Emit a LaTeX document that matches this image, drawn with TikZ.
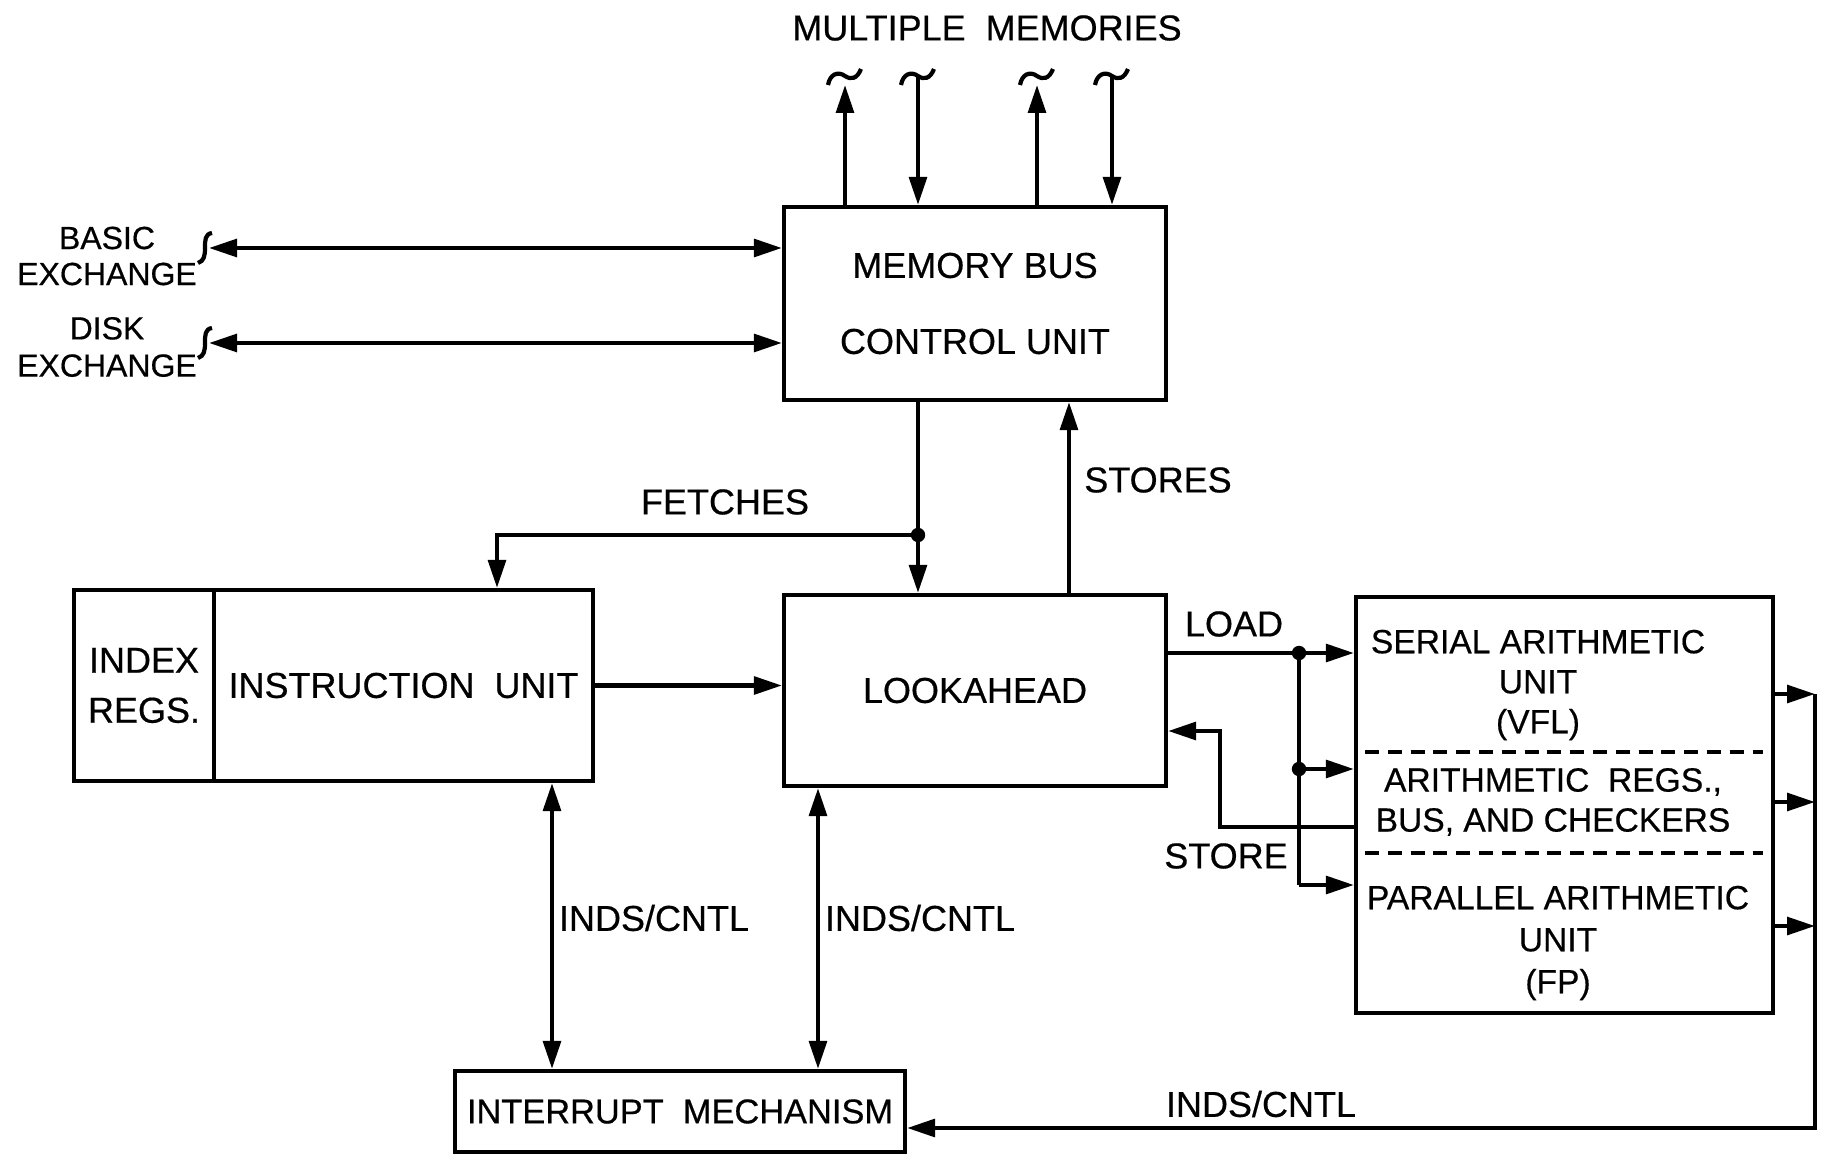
\documentclass[tikz,border=0pt]{standalone}
\usepackage{fontspec}
\setmainfont{Liberation Sans}[FakeBold=0.5]
\usetikzlibrary{arrows.meta}

\tikzset{
        box/.style={draw,line width=1.05pt,inner sep=0pt,align=center,font=\fontsize{9}{11}\selectfont},
        wire/.style={line width=1.05pt},
        arr/.style={wire,-{Triangle[length=7pt,width=4.4pt]}},
        dbl/.style={wire,{Triangle[length=7pt,width=4.4pt]}-{Triangle[length=7pt,width=4.4pt]}},
        lbl/.style={inner sep=0pt,align=center,font=\fontsize{9}{11}\selectfont},
        atxt/.style={inner sep=0pt,align=center,font=\fontsize{8.4}{10}\selectfont},
        tilde/.pic={\draw[wire] (-17,11) .. controls (-15,0) and (-7,-3) .. (0,2) .. controls (6,6) and (12,5) .. (16,-5);},
        hook/.pic={\draw[wire] (7,-15) .. controls (0,-14) and (0,-8) .. (0,0) .. controls (0,8) and (-1,13) .. (-7,15);}
}

\begin{document}
\begin{tikzpicture}[x=0.25pt,y=-0.25pt]
        \useasboundingbox (0,0) rectangle (1822,1155);
        % units
        \node[box,minimum width=95.5pt,minimum height=48.25pt](membus)at(975,303.5){MEMORY BUS\\[8pt]CONTROL UNIT};
        \node[box,minimum width=95.5pt,minimum height=47.75pt](look)at(975,690.5){LOOKAHEAD};
        \node[box,minimum width=35pt,minimum height=47.75pt](idx)at(144,685.5){INDEX\\[1.5pt]REGS.};
        \node[box,minimum width=94.75pt,minimum height=47.75pt](instr)at(403.5,685.5){INSTRUCTION\ \ UNIT};
        \node[box,minimum width=112.5pt,minimum height=20.25pt,font=\fontsize{8.6}{10}\selectfont](intr)at(680,1111.5){INTERRUPT\ \ MECHANISM};
        \node[box,minimum width=104.25pt,minimum height=104pt](arith)at(1564.5,805){};
        \node[atxt](sau)at(1538,685){SERIAL ARITHMETIC\\UNIT\\(VFL)};
        \node[atxt](arg)at(1553,802){ARITHMETIC\ \ REGS.,\\BUS, AND CHECKERS};
        \node[atxt](pau)at(1558,943){PARALLEL ARITHMETIC\\[0.5pt]UNIT\\[0.5pt](FP)};
        \draw[wire,dash pattern=on 3.5pt off 2.2pt] (1365,752) -- (1763,752);
        \draw[wire,dash pattern=on 3.5pt off 2.2pt] (1365,853) -- (1763,853);
        % multiple memories
        \node[lbl](mm)at(987,28){MULTIPLE\ \ MEMORIES};
        \coordinate (m1) at (845,85);
        \coordinate (m2) at (918,76);
        \coordinate (m3) at (1037,85);
        \coordinate (m4) at (1112,76);
        \pic at (845,74) {tilde};
        \pic at (918,74) {tilde};
        \pic at (1037,74) {tilde};
        \pic at (1112,74) {tilde};
        \draw[arr] (m1 |- membus.north) -- (m1);
        \draw[arr] (m2) -- (m2 |- membus.north);
        \draw[arr] (m3 |- membus.north) -- (m3);
        \draw[arr] (m4) -- (m4 |- membus.north);
        % exchanges
        \node[lbl,font=\fontsize{8}{9}\selectfont](bex)at(107,256){BASIC\\EXCHANGE};
        \node[lbl,font=\fontsize{8}{9.3}\selectfont](dex)at(107,347){DISK\\EXCHANGE};
        \coordinate (bx) at (209,248);
        \coordinate (dx) at (209,343);
        \pic at (205,248) {hook};
        \pic at (205,343) {hook};
        \draw[dbl] (bx) -- (bx -| membus.west);
        \draw[dbl] (dx) -- (dx -| membus.west);
        % fetches and stores
        \coordinate (fj) at (918,535);
        \coordinate (fi) at (497,535);
        \coordinate (st) at (1069,540);
        \draw[arr] (fj |- membus.south) -- (fj |- look.north);
        \draw[arr] (fj) -- (fi) -- (fi |- instr.north);
        \fill (fj) circle (1.8pt);
        \draw[arr] (st |- look.north) -- (st |- membus.south);
        \node[lbl](fet)at(725,502){FETCHES};
        \node[lbl](sto)at(1158,480){STORES};
        \draw[arr] (instr.east) -- (instr.east -| look.west);
        % indicators and control
        \coordinate (i1) at (552,900);
        \coordinate (i2) at (818,900);
        \draw[dbl] (i1 |- instr.south) -- (i1 |- intr.north);
        \draw[dbl] (i2 |- look.south) -- (i2 |- intr.north);
        \node[lbl](ic1)at(654,918){INDS/CNTL};
        \node[lbl](ic2)at(920,918){INDS/CNTL};
        % load and store
        \coordinate (la) at (1299,653);
        \coordinate (lm) at (1299,769);
        \coordinate (lb) at (1299,885);
        \draw[wire] (la -| look.east) -- (la) -- (lb);
        \draw[arr] (la) -- (la -| arith.west);
        \draw[arr] (lm) -- (lm -| arith.west);
        \draw[arr] (lb) -- (lb -| arith.west);
        \fill (la) circle (1.8pt);
        \fill (lm) circle (1.8pt);
        \coordinate (sa) at (1220,827);
        \coordinate (sb) at (1220,731);
        \draw[arr] (sa -| arith.west) -- (sa) -- (sb) -- (sb -| look.east);
        \node[lbl](lod)at(1234,624){LOAD};
        \node[lbl](sto2)at(1226,856){STORE};
        % back to interrupt
        \coordinate (r1) at (1815,694);
        \coordinate (r2) at (1815,802);
        \coordinate (r3) at (1815,926);
        \coordinate (rb) at (1815,1128);
        \draw[arr] (r1 -| arith.east) -- (r1);
        \draw[arr] (r2 -| arith.east) -- (r2);
        \draw[arr] (r3 -| arith.east) -- (r3);
        \draw[arr] (r1) -- (rb) -- (rb -| intr.east);
        \node[lbl](ic3)at(1261,1104){INDS/CNTL};
\end{tikzpicture}
\end{document}
